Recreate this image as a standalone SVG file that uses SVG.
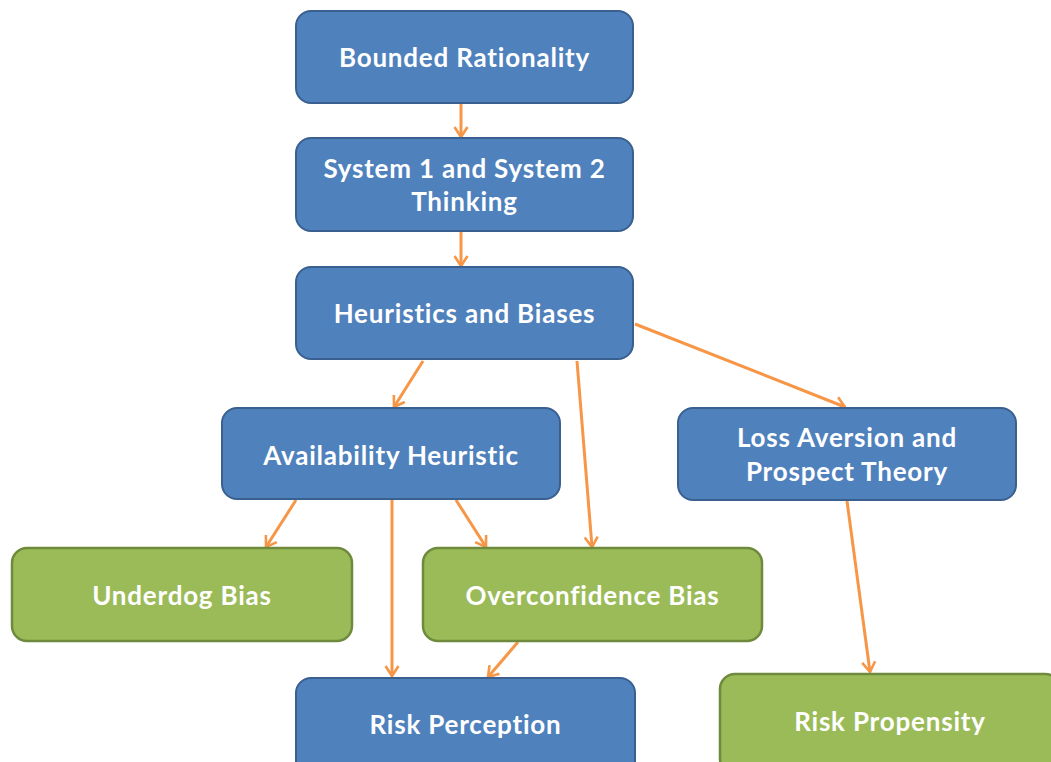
<svg xmlns="http://www.w3.org/2000/svg" width="1051" height="762" viewBox="0 0 1051 762">
<style>
.blue{fill:#4F81BD;stroke:#3A6090;stroke-width:2}
.green{fill:#9BBB59;stroke:#6E8A3C;stroke-width:2.5}
.t{font-family:Lato,"Open Sans","Liberation Sans",sans-serif;font-weight:bold;font-size:26px;letter-spacing:0.8px;fill:#FFFFFF;text-anchor:middle}
.c{stroke:#F79646;stroke-width:3;fill:none;marker-end:url(#ah)}
</style>
<defs>
<marker id="ah" viewBox="0 0 14 16" refX="12" refY="8" markerWidth="14" markerHeight="16" markerUnits="userSpaceOnUse" orient="auto">
<path d="M2,1.5 L12,8 L2,14.5" fill="none" stroke="#F79646" stroke-width="2.6"/>
</marker>
</defs>
<rect width="1051" height="762" fill="#FFFFFF"/>
<g id="connectors">
<line class="c" x1="461" y1="104" x2="461" y2="137"/>
<line class="c" x1="461" y1="232" x2="461" y2="266"/>
<line class="c" x1="423" y1="361" x2="394" y2="407"/>
<line class="c" x1="577" y1="361" x2="592" y2="547"/>
<line class="c" x1="635" y1="324" x2="845" y2="407"/>
<line class="c" x1="847" y1="501" x2="870" y2="672"/>
<line class="c" x1="296" y1="500" x2="266" y2="547"/>
<line class="c" x1="392" y1="500" x2="392" y2="676"/>
<line class="c" x1="456" y1="500" x2="486" y2="547"/>
<line class="c" x1="518" y1="642" x2="488" y2="677"/>
</g>
<g id="bounded-rationality">
<rect class="blue" x="296" y="11" width="337" height="92" rx="15"/>
<text class="t" x="464.5" y="67">Bounded Rationality</text>
</g>
<g id="system-thinking">
<rect class="blue" x="296" y="138" width="337" height="93" rx="15"/>
<text class="t" x="464.5" y="178">System 1 and System 2</text>
<text class="t" x="464.5" y="211">Thinking</text>
</g>
<g id="heuristics-biases">
<rect class="blue" x="296" y="267" width="337" height="92" rx="15"/>
<text class="t" x="464.5" y="323">Heuristics and Biases</text>
</g>
<g id="availability-heuristic">
<rect class="blue" x="222" y="408" width="338" height="91" rx="15"/>
<text class="t" x="391" y="465">Availability Heuristic</text>
</g>
<g id="loss-aversion">
<rect class="blue" x="678" y="408" width="338" height="92" rx="15"/>
<text class="t" x="847" y="447">Loss Aversion and</text>
<text class="t" x="847" y="481">Prospect Theory</text>
</g>
<g id="underdog-bias">
<rect class="green" x="12" y="548" width="340" height="93" rx="15"/>
<text class="t" x="182" y="605">Underdog Bias</text>
</g>
<g id="overconfidence-bias">
<rect class="green" x="423" y="548" width="339" height="93" rx="15"/>
<text class="t" x="592.5" y="605">Overconfidence Bias</text>
</g>
<g id="risk-perception">
<rect class="blue" x="296" y="678" width="339" height="100" rx="15"/>
<text class="t" x="465.5" y="734">Risk Perception</text>
</g>
<g id="risk-propensity">
<rect class="green" x="720" y="674" width="340" height="100" rx="15"/>
<text class="t" x="890" y="731">Risk Propensity</text>
</g>
</svg>
